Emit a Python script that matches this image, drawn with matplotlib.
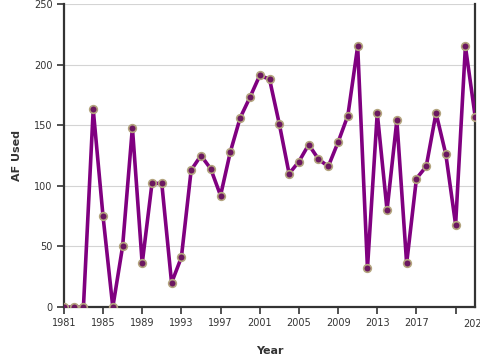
import numpy as np
import matplotlib
matplotlib.use("Agg")
import matplotlib.pyplot as plt

# roky a spotřeba (AF)
years = np.arange(1981, 2024)
af_used = [0, 0, 0, 163, 75, 0, 50, 148, 36, 102,
           102, 20, 41, 113, 125, 114, 92, 128, 156, 173,
           191, 188, 151, 110, 120, 134, 122, 116, 136, 158,
           215, 32, 160, 80, 154, 36, 106, 116, 160, 126,
           68, 215, 157]

tick_years = list(range(1981, 2022, 4))
tick_labels = [str(y) for y in tick_years[:-1]] + [""]

fig = plt.figure(figsize=(4.8, 3.6), dpi=100)
ax = fig.add_axes([0.133, 0.147, 0.857, 0.842])

ax.plot(years, af_used, color="#800080", lw=2.6, zorder=3,
        marker="o", markersize=5.5, markerfacecolor="#6b1760",
        markeredgecolor="#b3a47e", markeredgewidth=1.2)

ax.set_xlim(1981, 2023)
ax.set_ylim(0, 250)
ax.set_yticks(range(0, 251, 50))
ax.set_xticks(tick_years)
ax.set_xticklabels(tick_labels)
# poslední popisek na pravém okraji (oříznutý, jako v předloze)
ax.set_xticks([2023], ["2023"], minor=True)
ax.tick_params(axis="x", which="minor", length=0, pad=8.5)

ax.grid(axis="y", color="#d4d4d4", lw=0.8, zorder=0)
for side in ("left", "bottom", "right"):
    ax.spines[side].set_color("#333333")
    ax.spines[side].set_linewidth(1.6)
ax.spines["top"].set_visible(False)

ax.tick_params(which="major", direction="out", length=5, width=1.2,
               color="#333333", labelsize=7, labelcolor="#333333", pad=3)
ax.tick_params(which="minor", labelsize=7, labelcolor="#333333")

ax.set_xlabel("Year", fontsize=8, fontweight="bold", color="#333333", labelpad=12)
ax.set_ylabel("AF Used", fontsize=8, fontweight="bold", color="#333333", labelpad=9)

plt.savefig("out.png", dpi=100)
